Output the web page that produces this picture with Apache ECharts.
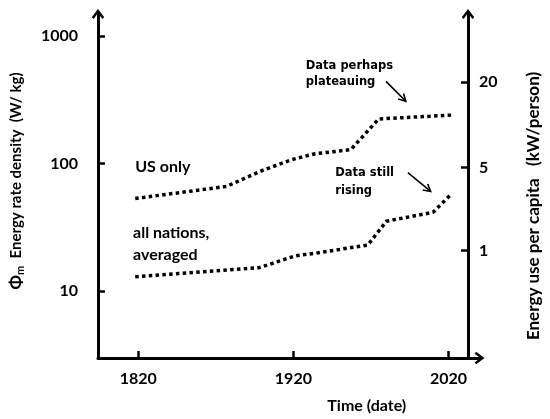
<!DOCTYPE html>
<html>
<head>
<meta charset="utf-8">
<script src="https://cdn.jsdelivr.net/npm/echarts@6/dist/echarts.min.js"></script>
<style>html,body{margin:0;padding:0;background:#fff;}#c{width:550px;height:419px;}</style>
</head>
<body>
<div id="c"></div>
<script>
// ---- data ----
const usYears = [1818, 1877, 1900, 1919, 1934, 1957, 1975, 2022];
const usValues = [53, 66, 88, 107, 119, 128, 223, 239];
const allYears = [1818, 1898, 1921, 1936, 1968, 1980, 2010, 2021];
const allValues = [12.9, 15.2, 18.8, 19.9, 22.9, 35.2, 41.3, 56.0];
const xTicks = [1820, 1920, 2020];
const leftTicks = [10, 100, 1000];
const rightTickLabels = ['1', '5', '20'];
const rightTickEquiv = [20.7, 92.5, 433]; // positions in W/kg units of the left scale

const FONT = 'Lato';
const chevron = 'path://M0,8 L6,0 L12,8 L10.2,9.6 L6,3.9 L1.8,9.6 Z';

const chart = echarts.init(document.getElementById('c'), null, {renderer: 'canvas'});
const axisLineStyle = {color: '#000', width: 3};
const plain = function (v) { return String(Math.round(v)); };

chart.setOption({
  animation: false,
  backgroundColor: '#fff',
  grid: {left: 97.5, right: 68, top: 14, bottom: 58, containLabel: false},
  xAxis: {
    type: 'value', min: 1794, max: 2040,
    axisLine: {show: true, lineStyle: axisLineStyle, symbol: ['none', chevron], symbolSize: [13, 10]},
    axisTick: {show: true, inside: true, length: 7, lineStyle: {color: '#000', width: 2.5}, customValues: xTicks},
    axisLabel: {customValues: xTicks, formatter: plain, color: '#000', fontFamily: FONT, fontWeight: 'bold', fontSize: 16, margin: 13},
    splitLine: {show: false},
    name: 'Time (date)', nameLocation: 'middle', nameGap: 40,
    nameTextStyle: {color: '#000', fontFamily: FONT, fontWeight: 'bold', fontSize: 16, padding: [0, 0, 0, 156]}
  },
  yAxis: [{
    type: 'log', logBase: 10, min: 2.977, max: 1483, position: 'left',
    axisLine: {show: true, lineStyle: axisLineStyle, symbol: ['none', chevron], symbolSize: [13, 10]},
    axisTick: {show: true, inside: true, length: 7, lineStyle: {color: '#000', width: 2.5}, customValues: leftTicks},
    axisLabel: {customValues: leftTicks, formatter: plain, color: '#000', fontFamily: FONT, fontWeight: 'bold', fontSize: 16, margin: 20},
    splitLine: {show: false},
    name: '{phi|Φ}{sub|m}{t|  Energy rate density  (W/ kg)}', nameLocation: 'middle', nameRotate: 90, nameGap: 72,
    nameTextStyle: {color: '#000', fontFamily: FONT, fontWeight: 'bold', fontSize: 16, padding: [0, 0, 0, 10],
      rich: {
        t: {fontFamily: FONT, fontWeight: 'bold', fontSize: 15, color: '#000'},
        phi: {fontFamily: FONT, fontWeight: 'bold', fontSize: 17, color: '#000'},
        sub: {fontFamily: FONT, fontWeight: 'bold', fontSize: 11, color: '#000', verticalAlign: 'bottom', padding: [8, 0, 0, 0]}
      }}
  }, {
    type: 'log', logBase: 10, min: 2.977, max: 1483, position: 'right', offset: -11.5,
    axisLine: {show: true, lineStyle: axisLineStyle, symbol: ['none', chevron], symbolSize: [13, 10]},
    axisTick: {show: true, inside: true, length: 7, lineStyle: {color: '#000', width: 2.5}, customValues: rightTickEquiv},
    axisLabel: {customValues: rightTickEquiv, color: '#000', fontFamily: FONT, fontWeight: 'bold', fontSize: 16, margin: 11,
      formatter: function (v) {
        let best = 0, d = Infinity;
        rightTickEquiv.forEach(function (t, i) { const dd = Math.abs(Math.log(t) - Math.log(v)); if (dd < d) { d = dd; best = i; } });
        return rightTickLabels[best];
      }},
    splitLine: {show: false},
    name: 'Energy use per capita   (kW/person)', nameLocation: 'middle', nameRotate: 90, nameGap: 57,
    nameTextStyle: {color: '#000', fontFamily: FONT, fontWeight: 'bold', fontSize: 17, padding: [0, 40, 0, 0]}
  }],
  series: [{
    name: 'US only', type: 'line', yAxisIndex: 0, showSymbol: false, silent: true,
    data: usYears.map(function (y, i) { return [y, usValues[i]]; }),
    lineStyle: {color: '#000', width: 3.5, type: [3.5, 3.3], cap: 'butt'}
  }, {
    name: 'all nations, averaged', type: 'line', yAxisIndex: 0, showSymbol: false, silent: true,
    data: allYears.map(function (y, i) { return [y, allValues[i]]; }),
    lineStyle: {color: '#000', width: 3.5, type: [3.5, 3.3], cap: 'butt'}
  }]
});

// ---- annotations anchored in data space ----
const labels = [
  {text: 'US only', at: [1818, 94], font: 'bold 16px ' + FONT},
  {text: 'all nations,', at: [1816.6, 28.4], font: 'bold 16px ' + FONT},
  {text: 'averaged', at: [1816.6, 19.1], font: 'bold 16px ' + FONT},
  {text: 'Data perhaps', at: [1928, 585], font: 'bold 11.5px "DejaVu Sans"'},
  {text: 'plateauing', at: [1928, 431], font: 'bold 11.5px "DejaVu Sans"'},
  {text: 'Data still', at: [1947, 84.5], font: 'bold 11.5px "DejaVu Sans"'},
  {text: 'rising', at: [1947, 61.2], font: 'bold 11.5px "DejaVu Sans"'}
];
const arrows = [
  {from: [1979.7, 439], to: [1992.5, 307]},
  {from: [1993.8, 84.5], to: [2008.5, 60.2]}
];
const g = [];
labels.forEach(function (l) {
  const p = chart.convertToPixel({xAxisIndex: 0, yAxisIndex: 0}, l.at);
  g.push({type: 'text', x: p[0], y: p[1], style: {text: l.text, font: l.font, fill: '#000', textAlign: 'left', textVerticalAlign: 'middle'}});
});
arrows.forEach(function (a) {
  const p1 = chart.convertToPixel({xAxisIndex: 0, yAxisIndex: 0}, a.from);
  const p2 = chart.convertToPixel({xAxisIndex: 0, yAxisIndex: 0}, a.to);
  const ang = Math.atan2(p2[1] - p1[1], p2[0] - p1[0]);
  const L = 8, s = 0.5;
  const h1 = [p2[0] - L * Math.cos(ang - s), p2[1] - L * Math.sin(ang - s)];
  const h2 = [p2[0] - L * Math.cos(ang + s), p2[1] - L * Math.sin(ang + s)];
  g.push({type: 'line', shape: {x1: p1[0], y1: p1[1], x2: p2[0], y2: p2[1]}, style: {stroke: '#000', lineWidth: 1.6}});
  g.push({type: 'polyline', shape: {points: [h1, p2, h2]}, style: {stroke: '#000', lineWidth: 1.6, fill: null}});
});
chart.setOption({graphic: g});
</script>
</body>
</html>
